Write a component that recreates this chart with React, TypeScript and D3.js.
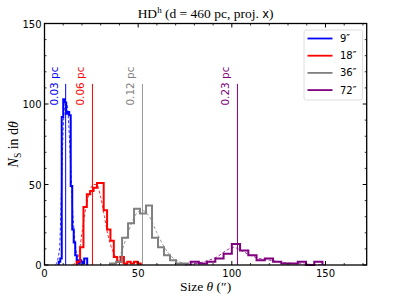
import React from "react";
import * as d3 from "d3";

const W = 407;
const H = 296;

// histogram bins: first edge, bin width, counts
const blueStart = 7.6;
const blueWidth = 0.8;
const blueCounts = [2, 4, 92, 103, 101, 94, 95, 93, 49, 22, 14, 6, 3, 1, 3, 2, 1, 4, 4];

const redStart = 17.2;
const redWidth = 1.8;
const redCounts = [2, 11, 36, 44, 46, 48, 51, 51, 34, 22, 15, 5, 2, 5, 1, 2, 1, 2, 1];

const grayStart = 35.0;
const grayWidth = 3.2;
const grayCounts = [1, 2, 17, 26, 35, 32, 37, 17, 11, 6, 3, 1, 1];

const purpleStart = 78.0;
const purpleWidth = 4.4;
const purpleCounts = [2, 1, 2, 4, 7, 13, 9, 6, 3, 4, 2, 1, 1, 2, 0, 2];

// dashed fits: [size, N]
const blueFit: [number, number][] = [[6, 0], [8, 10], [9, 45], [10, 85], [11, 100], [12, 100], [13, 86], [14, 60], [15, 35], [16, 18], [17, 8], [18, 3], [20, 0]];
const redFit: [number, number][] = [[15, 0], [18, 5], [20, 20], [22, 35], [24, 45], [26, 50], [28, 50], [30, 42], [32, 30], [34, 18], [36, 10], [38, 5], [42, 1], [45, 0]];
const grayFit: [number, number][] = [[36, 0], [40, 5], [44, 18], [48, 30], [52, 34], [56, 30], [60, 20], [64, 11], [68, 5], [72, 2], [78, 0]];
const purpleFit: [number, number][] = [[75, 0], [85, 2], [92, 5], [97, 9], [101, 11], [105, 9], [110, 6], [115, 4], [120, 3], [128, 1.5], [140, 0.5], [150, 0]];

const beamLabels = ["9″", "18″", "36″", "72″"];
const markerSizes = [11.3, 25.6, 52.3, 103];
const markerLabels = ["0.03 pc", "0.06 pc", "0.12 pc", "0.23 pc"];
const colors = ["#0000ff", "#ff0000", "#808080", "#800080"];

const xTicks = [0, 50, 100, 150];
const yTicks = [0, 50, 100, 150];

const x = d3.scaleLinear().domain([0, 172]).range([44.5, 366.7]);
const y = d3.scaleLinear().domain([0, 150]).range([265, 23.5]);

function stepPath(start: number, width: number, counts: number[]) {
    const pts: [number, number][] = [[start, 0]];
    counts.forEach((c, i) => pts.push([start + i * width, c]));
    pts.push([start + counts.length * width, 0]);
    return d3
        .line<[number, number]>()
        .x((d) => x(d[0]))
        .y((d) => y(d[1]))
        .curve(d3.curveStepAfter)(pts);
}

const fitLine = d3
    .line<[number, number]>()
    .x((d) => x(d[0]))
    .y((d) => y(d[1]))
    .curve(d3.curveMonotoneX);

export default function App() {
    const hists = [
        stepPath(blueStart, blueWidth, blueCounts),
        stepPath(redStart, redWidth, redCounts),
        stepPath(grayStart, grayWidth, grayCounts),
        stepPath(purpleStart, purpleWidth, purpleCounts),
    ];
    const fits = [blueFit, redFit, grayFit, purpleFit];
    const [x0, x1] = x.range();
    const [y0, y1] = y.range();
    const sans = "DejaVu Sans, sans-serif";
    const serif = "Liberation Serif, serif";
    const minor = d3.range(10, 172, 10).filter((v) => v % 50 !== 0);
    const minorY = d3.range(10, 150, 10).filter((v) => v % 50 !== 0);

    return (
        <svg
            width={W}
            height={H}
            style={{ position: "fixed", left: 0, top: 0, background: "#fff" }}
        >
            <rect width={W} height={H} fill="#fff" />

            {/* size markers */}
            {markerSizes.map((s, i) => (
                <g key={"m" + i}>
                    <line x1={x(s)} x2={x(s)} y1={y(0)} y2={y(112.5)} stroke={colors[i]} strokeWidth={1} opacity={i === 2 ? 0.8 : 1} />
                    <text
                        transform={`translate(${x(s) - 8},${y(99)}) rotate(-90)`}
                        fill={colors[i]}
                        fontFamily={sans}
                        fontSize={10.5}
                    >
                        {markerLabels[i]}
                    </text>
                </g>
            ))}

            {/* fits */}
            {fits.map((f, i) => (
                <path key={"f" + i} d={fitLine(f) ?? ""} fill="none" stroke={colors[i]} strokeWidth={0.8} strokeDasharray="3,2" />
            ))}

            {/* histograms */}
            {hists.map((d, i) => (
                <path key={"h" + i} d={d ?? ""} fill="none" stroke={colors[i]} strokeWidth={2} strokeLinejoin="miter" />
            ))}

            {/* frame */}
            <rect x={x0} y={y1} width={x1 - x0} height={y0 - y1} fill="none" stroke="#000" strokeWidth={1.3} />

            {/* x ticks */}
            {xTicks.map((t) => (
                <g key={"xt" + t}>
                    <line x1={x(t)} x2={x(t)} y1={y0} y2={y0 - 4} stroke="#000" />
                    <line x1={x(t)} x2={x(t)} y1={y1} y2={y1 + 4} stroke="#000" />
                    <text x={x(t)} y={y0 + 11.5} textAnchor="middle" fontFamily={sans} fontSize={10}>
                        {t}
                    </text>
                </g>
            ))}
            {minor.map((t) => (
                <g key={"xm" + t}>
                    <line x1={x(t)} x2={x(t)} y1={y0} y2={y0 - 2} stroke="#000" strokeWidth={0.8} />
                    <line x1={x(t)} x2={x(t)} y1={y1} y2={y1 + 2} stroke="#000" strokeWidth={0.8} />
                </g>
            ))}

            {/* y ticks */}
            {yTicks.map((t) => (
                <g key={"yt" + t}>
                    <line x1={x0} x2={x0 + 4} y1={y(t)} y2={y(t)} stroke="#000" />
                    <line x1={x1} x2={x1 - 4} y1={y(t)} y2={y(t)} stroke="#000" />
                    <text x={x0 - 3} y={y(t) + 4} textAnchor="end" fontFamily={sans} fontSize={10}>
                        {t}
                    </text>
                </g>
            ))}
            {minorY.map((t) => (
                <g key={"ym" + t}>
                    <line x1={x0} x2={x0 + 2} y1={y(t)} y2={y(t)} stroke="#000" strokeWidth={0.8} />
                    <line x1={x1} x2={x1 - 2} y1={y(t)} y2={y(t)} stroke="#000" strokeWidth={0.8} />
                </g>
            ))}

            {/* legend */}
            <rect x={304} y={30} width={58.5} height={70} rx={2} fill="#fff" fillOpacity={0.8} stroke="#d6d6d6" strokeWidth={0.8} />
            {beamLabels.map((b, i) => (
                <g key={"l" + i}>
                    <line x1={307.5} x2={332.5} y1={38.5 + i * 17.2} y2={38.5 + i * 17.2} stroke={colors[i]} strokeWidth={1.8} />
                    <text x={340} y={42 + i * 17.2} fontFamily={sans} fontSize={10}>
                        {b}
                    </text>
                </g>
            ))}

            {/* title */}
            <text x={(x0 + x1) / 2} y={18} textAnchor="middle" fontFamily={serif} fontSize={13.5}>
                HD
                <tspan fontSize={9} dy={-5}>h</tspan>
                <tspan dy={5}> (d = 460 pc,  proj. </tspan>
                <tspan fontFamily={sans} fontSize={11.5}>x</tspan>
                <tspan>)</tspan>
            </text>

            {/* axis labels */}
            <text x={(x0 + x1) / 2} y={291} textAnchor="middle" fontFamily={serif} fontSize={13.5}>
                Size <tspan fontStyle="italic">θ</tspan> (″)
            </text>
            <text transform={`translate(18,${(y0 + y1) / 2}) rotate(-90)`} textAnchor="middle" fontFamily={serif} fontSize={14}>
                <tspan fontStyle="italic">N</tspan>
                <tspan fontSize={9.5} dy={3}>S</tspan>
                <tspan dy={-3}> in d</tspan>
                <tspan fontStyle="italic">θ</tspan>
            </text>
        </svg>
    );
}
